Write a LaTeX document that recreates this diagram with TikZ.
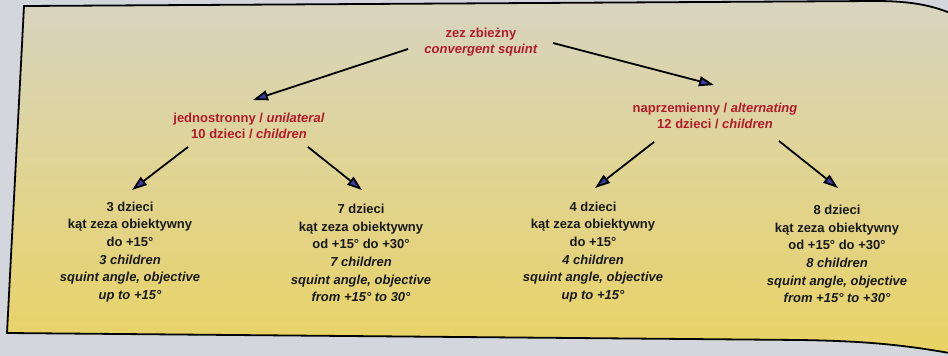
\documentclass[tikz,border=0pt]{standalone}
\usepackage{fontspec}
\setmainfont{Liberation Sans}
\usetikzlibrary{arrows.meta}
\definecolor{bgout}{RGB}{212,214,222}
\definecolor{boxtop}{RGB}{216,212,192}
\definecolor{boxmid}{RGB}{223,212,158}
\definecolor{boxbot}{RGB}{233,211,100}
\definecolor{txtred}{RGB}{178,28,42}
\definecolor{txtblack}{RGB}{25,25,25}
\definecolor{arrblue}{RGB}{60,60,165}
\begin{document}
\begin{tikzpicture}[x=1pt,y=-1pt,
  every node/.style={align=center, inner sep=0pt},
  redtxt/.style={text=txtred, font=\bfseries\fontsize{13}{16.5}\selectfont},
  blk/.style={text=txtblack, font=\bfseries\fontsize{13}{17.6}\selectfont},
  arr/.style={line width=1.8pt, draw=black, -{Triangle[length=15pt,width=10pt,fill=arrblue]}}]
\useasboundingbox (0,0) rectangle (948,356);
\clip (0,0) rectangle (948,356);
\fill[bgout] (0,0) rectangle (948,356);
\draw[line width=1.8pt, top color=boxtop, middle color=boxmid, bottom color=boxbot]
  (24,6) -- (875,1) .. controls (910,1) and (932,5) .. (955,15)
  -- (955,354) .. controls (900,344) and (860,341) .. (800,340) -- (7,333) -- cycle;
\node[redtxt] (top) at (481,42) {zez zbieżny\\\textit{convergent squint}};
\node[redtxt] (uni) at (249,126) {jednostronny / \textit{unilateral}\\10 dzieci / \textit{children}};
\node[redtxt] (alt) at (715,116) {naprzemienny / \textit{alternating}\\12 dzieci / \textit{children}};
\node[blk] (b1) at (130,252) {3 dzieci\\kąt zeza obiektywny\\do +15°\\\textit{3 children}\\\textit{squint angle, objective}\\\textit{up to +15°}};
\node[blk] (b2) at (361,253) {7 dzieci\\kąt zeza obiektywny\\od +15° do +30°\\\textit{7 children}\\\textit{squint angle, objective}\\\textit{from +15° to 30°}};
\node[blk] (b3) at (593,252) {4 dzieci\\kąt zeza obiektywny\\do +15°\\\textit{4 children}\\\textit{squint angle, objective}\\\textit{up to +15°}};
\node[blk] (b4) at (837,254) {8 dzieci\\kąt zeza obiektywny\\od +15° do +30°\\\textit{8 children}\\\textit{squint angle, objective}\\\textit{from +15° to +30°}};
\coordinate (a1s) at (408,49);  \coordinate (a1e) at (253,100);
\coordinate (a2s) at (553,43);  \coordinate (a2e) at (714,85);
\coordinate (a3s) at (188,147); \coordinate (a3e) at (132,190);
\coordinate (a4s) at (308,147); \coordinate (a4e) at (362,190);
\coordinate (a5s) at (654,142); \coordinate (a5e) at (595,188);
\coordinate (a6s) at (779,141); \coordinate (a6e) at (838,188);
\draw[arr] (a1s) -- (a1e);
\draw[arr] (a2s) -- (a2e);
\draw[arr] (a3s) -- (a3e);
\draw[arr] (a4s) -- (a4e);
\draw[arr] (a5s) -- (a5e);
\draw[arr] (a6s) -- (a6e);
\end{tikzpicture}
\end{document}
